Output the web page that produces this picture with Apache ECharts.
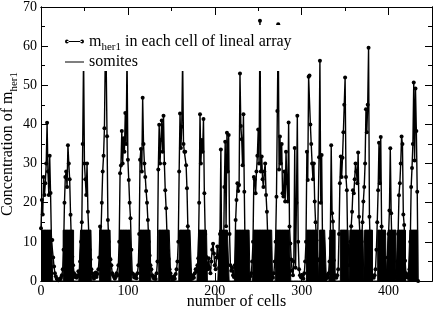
<!DOCTYPE html>
<html><head><meta charset="utf-8">
<script src="https://cdn.jsdelivr.net/npm/echarts@6/dist/echarts.min.js"></script>
<style>html,body{margin:0;padding:0;background:#fff}#c{width:436px;height:312px}</style>
</head><body><div id="c"></div>
<script>
// m_her1 concentration in each cell (cell index = array position)
const mHer1 = [
  13.5,20.7,17,26.6,22,25,30,40.4,28,22,32,22.5,10.5,10.5,6,3.7,2,1.2,0.6,0.3,0.2,0.5,0.3,0.8,1.5,
  3,8,20,26.6,28,24,34.7,30,26,16.9,10,6.2,4,2,1,1.5,0.8,1.2,2.5,1.5,
  5,10,15,35,58,30,26,22,30,17.7,12.2,8,5.5,3,2,1,0.6,1.5,2.2,1,1.8,3,
  6,13.9,12,20,28,32,39,58,56,37,15.6,10,5.8,5.5,4,2,1.5,1,0.6,1,2,1.5,4,
  10,27.5,29.5,38.3,30,36.5,33,42.9,35,58,31,25.8,20,16,8,2,1.8,1,0.8,1.5,0.7,2,
  4,12,31,33.7,28,46.8,35,30,26.6,23,20,15.6,10,6.5,4,3,1.5,1,0.6,1.2,0.5,2,
  5,28.5,39.9,30,36,41,33,42.2,30,23.2,18.6,12,7.7,5.6,3,2,1,0.8,0.4,1.2,0.6,1.8,3,5,
  10,28,42.8,34,39.4,57,35,33,33,29.6,23.7,14,5.2,3,0.5,1,0.6,1.5,0.8,2,3,2.5,4,
  5.8,20,42.6,30,36,33,41.4,22.4,12,6.2,4.5,3,5.8,3.3,2,5,8,9.5,7,4,
  3,6,8.8,6,3.4,12,33.6,5,2.6,3.4,24,35.6,14,37.9,28,37.3,12,4,2.6,3.4,1.5,1,4,
  15.6,20.7,25,23,24.5,53,39.6,36.2,29.6,42.6,22.8,5.6,3.3,2.5,1.5,1,0.5,1.2,2,5,
  10,26.6,26,22.4,28,32,38.7,30,66.5,28,31.8,26,24,28,30,22,17.7,10.9,4.5,1.5,1,0.6,1.2,0.8,2,5,10,
  21.5,43.4,65.6,28.5,36.9,30,35,22.4,21.6,28,20.3,33,25,20.3,40.5,13.9,9.6,5.5,2.6,1.5,5,34,3.4,20,42.2,10,3,1.5,1,0.8,1.5,0.6,2,5,
  10,33,25.8,52.2,52.5,40,35,30,26,30,20.3,15,10.4,5.6,5.3,31.6,56.3,20,32.2,10,4,2,1,0.6,1.5,0.8,2,5,
  10.9,34.7,17.3,15.2,5.3,1.5,1,0.8,1.5,3,12,
  25,31.8,26.6,31.5,38,45,52,26.6,23.2,9,8,4,10,14,
  17.7,23.2,22.4,26,30,28,25,32.8,16.4,12.2,8,10,15,20.3,24,30,43.9,38,45,59.6,16.4,8,2.6,1.5,1,0.8,1.5,3,8,15,
  23.2,35.3,25,36.8,13.9,5.2,4,2,1.5,1,2.5,6,12,
  18,33.9,17.3,7.6,3.4,2,1.5,1,2.5,5,12,
  21.9,25,30,36.9,35,17,14.3,5.2,2,1,0.8,1.5,3,10,
  24,28.9,35,50.7,30.8,49.2,38.3,22.8,0
];
// somite extents (first and last cell of each somite) and somite marker level
const somiteStart = [0,26,46,68,91,114,136,160,182,206,225,245,271,306,321,333,345,356,373,388,400,411,425];
const somiteEnd   = [13,37,58,80,104,126,149,173,191,216,240,266,287,319,328,338,354,371,381,397,408,419,433];
const somiteLevel = [13];
const xTickLabels = [0,100,200,300,400];
const yTickLabels = [0,10,20,30,40,50,60,70];

const FONT = 'Liberation Serif';
const herData = mHer1.map((v, i) => [i, v]);
const somData = mHer1.map((v, i) => {
  let inS = false;
  for (let k = 0; k < somiteStart.length; k++) if (i >= somiteStart[k] && i <= somiteEnd[k]) inS = true;
  return [i, inS ? somiteLevel[0] : 0];
});

const chart = echarts.init(document.getElementById('c'), null, {renderer: 'canvas'});
const black = '#000';
function xAx(pos, interval, len, extra) {
  return Object.assign({
    type: 'value', min: 0, max: 450, interval: interval, position: pos, gridIndex: 0,
    axisLine: {show: true, onZero: false, lineStyle: {color: black, width: 1}},
    axisTick: {show: true, inside: true, length: len, lineStyle: {color: black, width: 1}},
    axisLabel: {show: false}, splitLine: {show: false}
  }, extra || {});
}
function yAx(pos, interval, len, extra) {
  return Object.assign({
    type: 'value', min: 0, max: 70, interval: interval, position: pos, gridIndex: 0,
    axisLine: {show: true, onZero: false, lineStyle: {color: black, width: 1}},
    axisTick: {show: true, inside: true, length: len, lineStyle: {color: black, width: 1}},
    axisLabel: {show: false}, splitLine: {show: false}
  }, extra || {});
}
const rich = {
  a: {fontFamily: FONT, fontSize: 16, color: black, lineHeight: 18},
  s: {fontFamily: FONT, fontSize: 11, color: black, lineHeight: 18, padding: [12, 0, 0, 0]}
};
const option = {
  animation: false,
  backgroundColor: '#fff',
  grid: {left: 41, right: 4, top: 7, bottom: 31, containLabel: false, outerBoundsMode: 'none'},
  xAxis: [
    xAx('bottom', 50, 4),
    xAx('bottom', 100, 8, {
      axisLabel: {show: true, margin: 3, fontFamily: FONT, fontSize: 14, color: black,
        showMaxLabel: false,
        formatter: v => xTickLabels.indexOf(v) >= 0 ? String(v) : ''},
      name: 'number of cells', nameLocation: 'middle', nameGap: 13, nameMoveOverlap: false,
      nameTextStyle: {fontFamily: FONT, fontSize: 16, color: black}
    }),
    xAx('top', 50, 4),
    xAx('top', 100, 8)
  ],
  yAxis: [
    yAx('left', 5, 4),
    yAx('left', 10, 7, {
      axisLabel: {show: true, margin: 4, fontFamily: FONT, fontSize: 14, color: black,
        formatter: v => yTickLabels.indexOf(v) >= 0 ? String(v) : ''},
      name: '{a|Concentration of m}{s|her1}', nameLocation: 'middle', nameGap: 24, nameRotate: 90,
      nameMoveOverlap: false,
      nameTextStyle: {fontFamily: FONT, fontSize: 16, color: black, rich: rich}
    }),
    yAx('right', 5, 4),
    yAx('right', 10, 7)
  ],
  legend: {
    show: true, orient: 'vertical', left: 60, top: 25,
    padding: [5, 6, 1, 5], itemGap: 1, itemWidth: 19, itemHeight: 4,
    backgroundColor: '#fff', selectedMode: false,
    textStyle: {fontFamily: FONT, fontSize: 16, color: black, rich: rich},
    formatter: n => n === 'mher1' ? '{a|m}{s|her1}{a| in each cell of lineal array}' : '{a|somites}',
    data: [
      {name: 'mher1', icon: 'path://M2,1.5H18V2.5H2Z M0,2a2,2 0 1,0 4,0a2,2 0 1,0 -4,0Z M16,2a2,2 0 1,0 4,0a2,2 0 1,0 -4,0Z', itemStyle: {color: black}},
      {name: 'somites', icon: 'path://M10,0h0.01v0.01h-0.01Z M10,3.99h0.01v0.01h-0.01Z M0,1.5H20V2.5H0Z', itemStyle: {color: black}}
    ]
  },
  series: [
    {
      name: 'somites', type: 'line', xAxisIndex: 0, yAxisIndex: 0, step: 'middle',
      data: somData, showSymbol: false, symbol: 'none',
      lineStyle: {color: black, width: 1}, itemStyle: {color: black},
      areaStyle: {color: black, opacity: 1, origin: 'start'}, z: 2
    },
    {
      name: 'mher1', type: 'line', xAxisIndex: 0, yAxisIndex: 0,
      data: herData, symbol: 'circle', symbolSize: 4, showSymbol: true, showAllSymbol: true,
      lineStyle: {color: black, width: 1.4}, itemStyle: {color: black}, z: 3
    }
  ]
};
chart.setOption(option);
</script>
</body></html>
